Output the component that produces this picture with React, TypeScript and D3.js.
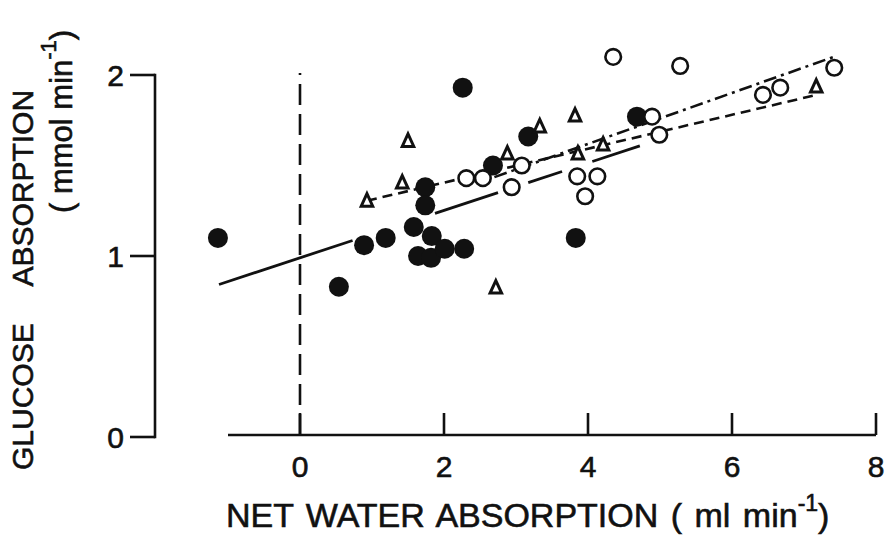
import React from 'react';
import * as d3 from 'd3';

const xTicks = [0, 2, 4, 6, 8];
const yTicks = [0, 1, 2];

// Filled circles
const filledX = [-1.14, 0.54, 0.89, 1.19, 1.58, 1.74, 1.74, 1.83, 1.64, 1.82, 2.01, 2.28, 2.26, 2.68, 3.17, 3.83, 4.68];
const filledY = [1.10, 0.83, 1.06, 1.10, 1.16, 1.38, 1.28, 1.11, 1.00, 0.99, 1.04, 1.04, 1.93, 1.50, 1.66, 1.10, 1.77];

// Open circles
const openX = [2.31, 2.54, 3.08, 2.94, 3.85, 4.13, 3.96, 4.35, 5.28, 4.89, 4.99, 6.43, 6.67, 7.42];
const openY = [1.43, 1.43, 1.50, 1.38, 1.44, 1.44, 1.33, 2.10, 2.05, 1.77, 1.67, 1.89, 1.93, 2.04];

// Open triangles
const triX = [0.93, 1.42, 1.50, 2.72, 2.88, 3.33, 3.82, 3.86, 4.21, 7.17];
const triY = [1.31, 1.41, 1.64, 0.83, 1.57, 1.72, 1.78, 1.57, 1.62, 1.94];

// Regression lines: [intercept, slope]
const solidFit = [0.99, 0.131];
const solidSegments = [[-1.125, 0.73], [1.875, 2.75], [3.17, 3.64], [4.06, 4.72]];
const dashedFit = [1.218, 0.0937];
const dashedRange = [0.93, 7.17];
const dashDotFit = [1.055, 0.141];
const dashDotRange = [2.7, 7.42];

const W = 885;
const H = 535;
const FONT = '"Liberation Sans", Arial, sans-serif';
const INK = '#111';

export default function App() {
  const x = d3.scaleLinear().domain([-1, 8]).range([228, 876]);
  const y = d3.scaleLinear().domain([0, 2]).range([437, 75]);
  const xAxisY = 435;
  const yAxisX = 155;

  const line = d3
    .line<number[]>()
    .x((d) => x(d[0]))
    .y((d) => y(d[1]));

  const fitPts = (fit: number[], a: number, b: number) => [
    [a, fit[0] + fit[1] * a],
    [b, fit[0] + fit[1] * b],
  ];

  const tri = (cx: number, cy: number) => {
    const w = 11.5, h = 12.5;
    return `M${cx},${cy - h / 2}L${cx + w / 2},${cy + h / 2}L${cx - w / 2},${cy + h / 2}Z`;
  };

  const textStyle = { stroke: INK, strokeWidth: 0.6 };

  return (
    <svg width={W} height={H} style={{ position: 'absolute', left: 0, top: 0, background: '#fff' }}>
      <rect x={0} y={0} width={W} height={H} fill="#fff" />
      {/* Y axis */}
      <line x1={yAxisX} x2={yAxisX} y1={y(2)} y2={y(0)} stroke={INK} strokeWidth={2.6} strokeLinecap="square" />
      {yTicks.map((t) => (
        <g key={'yt' + t}>
          <line x1={yAxisX - 25} x2={yAxisX} y1={y(t)} y2={y(t)} stroke={INK} strokeWidth={2.6} />
          <text x={124} y={y(t) + 11} fontSize={30} fontFamily={FONT} textAnchor="end" fill={INK} style={textStyle}>
            {t}
          </text>
        </g>
      ))}
      {/* X axis */}
      <line x1={x(-1)} x2={x(8)} y1={xAxisY} y2={xAxisY} stroke={INK} strokeWidth={2.6} />
      {xTicks.map((t) => (
        <g key={'xt' + t}>
          <line x1={x(t)} x2={x(t)} y1={xAxisY} y2={xAxisY - 22} stroke={INK} strokeWidth={2.6} />
          <text x={x(t)} y={477} fontSize={30} fontFamily={FONT} textAnchor="middle" fill={INK} style={textStyle}>
            {t}
          </text>
        </g>
      ))}
      {/* Vertical dashed line at x = 0 */}
      <line x1={x(0)} x2={x(0)} y1={xAxisY} y2={73} stroke={INK} strokeWidth={2.6} strokeDasharray="21 9" />

      {/* Regression lines */}
      {solidSegments.map((s, i) => (
        <path key={'s' + i} d={line(fitPts(solidFit, s[0], s[1])) || ''} stroke={INK} strokeWidth={2.8} fill="none" />
      ))}
      <path
        d={line(fitPts(dashedFit, dashedRange[0], dashedRange[1])) || ''}
        stroke={INK}
        strokeWidth={2.6}
        fill="none"
        strokeDasharray="10 6"
      />
      <path
        d={line(fitPts(dashDotFit, dashDotRange[0], dashDotRange[1])) || ''}
        stroke={INK}
        strokeWidth={2.6}
        fill="none"
        strokeDasharray="13 5 3 5"
      />

      {/* Markers */}
      {filledX.map((v, i) => (
        <circle key={'f' + i} cx={x(v)} cy={y(filledY[i])} r={10} fill={INK} />
      ))}
      {triX.map((v, i) => (
        <path key={'t' + i} d={tri(x(v), y(triY[i]))} fill="#fff" stroke={INK} strokeWidth={3} strokeLinejoin="miter" />
      ))}
      {openX.map((v, i) => (
        <circle key={'o' + i} cx={x(v)} cy={y(openY[i])} r={7.8} fill="#fff" stroke={INK} strokeWidth={2.6} />
      ))}

      {/* X title */}
      <text x={226} y={527} fontSize={34} fontFamily={FONT} fill={INK} style={{ ...textStyle, wordSpacing: '3px' }}>
        NET WATER ABSORPTION ( ml min
        <tspan fontSize={23} dy={-16}>-1</tspan>
        <tspan dy={16}>)</tspan>
      </text>

      {/* Y titles */}
      <text
        transform="translate(33,470) rotate(-90)"
        fontSize={30}
        fontFamily={FONT}
        fill={INK}
        style={{ ...textStyle, wordSpacing: '30px' }}
      >
        GLUCOSE ABSORPTION
      </text>
      <text transform="translate(72,213) rotate(-90)" fontSize={31} fontFamily={FONT} fill={INK} style={textStyle}>
        ( mmol min
        <tspan fontSize={22} dy={-16}>-1</tspan>
        <tspan dy={16}>)</tspan>
      </text>
    </svg>
  );
}
